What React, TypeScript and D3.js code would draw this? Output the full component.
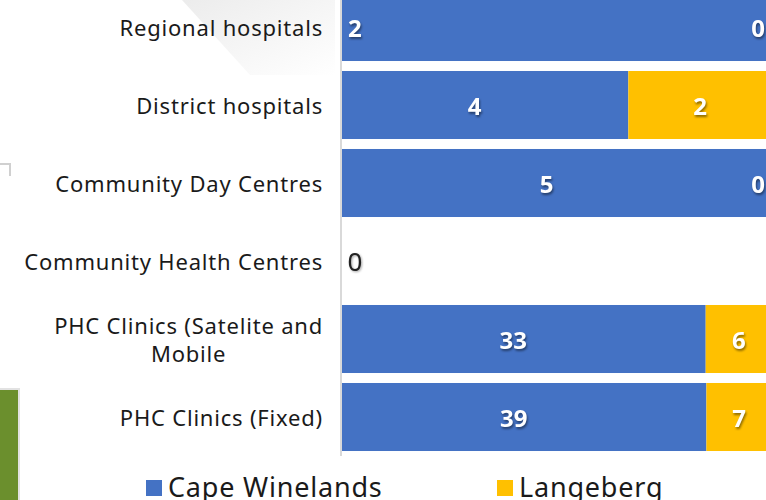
import React, { useEffect, useRef } from "react";
import * as d3 from "d3";

const categories = [
  "Regional hospitals",
  "District hospitals",
  "Community Day Centres",
  "Community Health Centres",
  "PHC Clinics (Satelite and Mobile",
  "PHC Clinics (Fixed)",
];
const capeWinelands = [2, 4, 5, 0, 33, 39];
const langeberg = [0, 2, 0, 0, 6, 7];
const seriesNames = ["Cape Winelands", "Langeberg"];
const seriesColors = ["#4472c4", "#ffc000"];

const W = 766;
const H = 500;
const FONT = "'Noto Sans', sans-serif";

export default function App() {
  const ref = useRef<SVGSVGElement>(null);

  useEffect(() => {
    const svg = d3.select(ref.current);
    svg.selectAll("*").remove();

    const rows = categories.map((c, i) => ({
      cat: c,
      cw: capeWinelands[i],
      lb: langeberg[i],
    }));

    const stack = d3
      .stack<any>()
      .keys(["cw", "lb"])
      .offset(d3.stackOffsetExpand);
    const layers = stack(rows);

    const x = d3.scaleLinear().domain([0, 1]).range([341, 772]);
    const y = d3
      .scaleBand()
      .domain(categories)
      .range([-12, 456])
      .paddingInner(0.128)
      .paddingOuter(0.064);

    // slide decoration behind the chart
    const defs = svg.append("defs");
    const grad = defs
      .append("linearGradient")
      .attr("id", "fade")
      .attr("x1", "0")
      .attr("y1", "0")
      .attr("x2", "1")
      .attr("y2", "1");
    grad.append("stop").attr("offset", "0").attr("stop-color", "#ececec");
    grad.append("stop").attr("offset", "1").attr("stop-color", "#ffffff");
    svg
      .append("polygon")
      .attr("points", "182,0 335,0 335,75 250,75")
      .attr("fill", "url(#fade)");
    svg
      .append("path")
      .attr("d", "M0,164 H10 V176")
      .attr("fill", "none")
      .attr("stroke", "#d0d0d0")
      .attr("stroke-width", 2);
    svg
      .append("rect")
      .attr("x", -2)
      .attr("y", 389)
      .attr("width", 21)
      .attr("height", 120)
      .attr("fill", "#6b8f2d")
      .attr("stroke", "#e2e2e2")
      .attr("stroke-width", 2);

    // bars
    layers.forEach((layer, li) => {
      svg
        .append("g")
        .selectAll("rect")
        .data(layer)
        .enter()
        .append("rect")
        .attr("x", (d) => x(isNaN(d[0]) ? 0 : d[0]))
        .attr("y", (d) => y(d.data.cat)!)
        .attr("width", (d) =>
          isNaN(d[0]) || isNaN(d[1]) ? 0 : x(d[1]) - x(d[0])
        )
        .attr("height", y.bandwidth())
        .attr("fill", seriesColors[li]);
    });

    // axis line
    svg
      .append("line")
      .attr("x1", 341)
      .attr("x2", 341)
      .attr("y1", 0)
      .attr("y2", 456)
      .attr("stroke", "#d9d9d9")
      .attr("stroke-width", 2);

    // category labels
    const catG = svg
      .append("g")
      .attr("font-family", FONT)
      .attr("font-size", 22)
      .attr("letter-spacing", 0.8)
      .attr("fill", "#1a1a1a");
    rows.forEach((r) => {
      const cy = y(r.cat)! + y.bandwidth() / 2;
      if (r.cat.startsWith("PHC Clinics (Satelite")) {
        const t1 = catG
          .append("text")
          .attr("x", 323)
          .attr("y", cy - 14)
          .attr("text-anchor", "end")
          .attr("dominant-baseline", "central")
          .text("PHC Clinics (Satelite and");
        const w = (t1.node() as SVGTextElement).getComputedTextLength();
        catG
          .append("text")
          .attr("x", 323 - w / 2)
          .attr("y", cy + 14)
          .attr("text-anchor", "middle")
          .attr("dominant-baseline", "central")
          .text("Mobile");
      } else {
        catG
          .append("text")
          .attr("x", 323)
          .attr("y", cy)
          .attr("text-anchor", "end")
          .attr("dominant-baseline", "central")
          .text(r.cat);
      }
    });

    // data labels
    const lblG = svg
      .append("g")
      .attr("font-family", FONT)
      .attr("font-size", 24);
    layers.forEach((layer, li) => {
      layer.forEach((d, i) => {
        const val = li === 0 ? capeWinelands[i] : langeberg[i];
        const cy = y(d.data.cat)! + y.bandwidth() / 2;
        const total = capeWinelands[i] + langeberg[i];
        if (total === 0) {
          if (li > 0) return;
          lblG
            .append("rect")
            .attr("x", 344)
            .attr("y", cy - 14)
            .attr("width", 22)
            .attr("height", 28)
            .attr("fill", "#fff");
          lblG
            .append("text")
            .attr("x", 355)
            .attr("y", cy)
            .attr("text-anchor", "middle")
            .attr("dominant-baseline", "central")
            .attr("font-size", 26)
            .attr("fill", "#222")
            .attr("style", "filter: drop-shadow(1px 1px 1px rgba(0,0,0,0.35))")
            .text(val);
          return;
        }
        let lx: number;
        let anchor = "middle";
        if (val === 0) {
          lx = x(1) - 14;
        } else if (i === 0) {
          lx = x(0) + 7;
          anchor = "start";
        } else {
          lx = (x(d[0]) + x(d[1])) / 2 - (li === 0 ? 10 : 0);
        }
        lblG
          .append("text")
          .attr("x", lx)
          .attr("y", cy)
          .attr("text-anchor", anchor)
          .attr("dominant-baseline", "central")
          .attr("font-weight", "bold")
          .attr("fill", "#fff")
          .attr("style", "filter: drop-shadow(1px 2px 1px rgba(0,0,0,0.45))")
          .text(val);
      });
    });

    // legend
    const legX = [146, 497];
    const legG = svg
      .append("g")
      .attr("font-family", FONT)
      .attr("font-size", 27)
      .attr("letter-spacing", 0.8)
      .attr("fill", "#1a1a1a");
    seriesNames.forEach((name, i) => {
      legG
        .append("rect")
        .attr("x", legX[i])
        .attr("y", 480)
        .attr("width", 16)
        .attr("height", 16)
        .attr("fill", seriesColors[i]);
      legG
        .append("text")
        .attr("x", legX[i] + 22)
        .attr("y", 497)
        .text(name);
    });
  }, []);

  return (
    <svg
      ref={ref}
      width={W}
      height={H}
      style={{ position: "absolute", left: 0, top: 0, background: "#fff" }}
    />
  );
}
